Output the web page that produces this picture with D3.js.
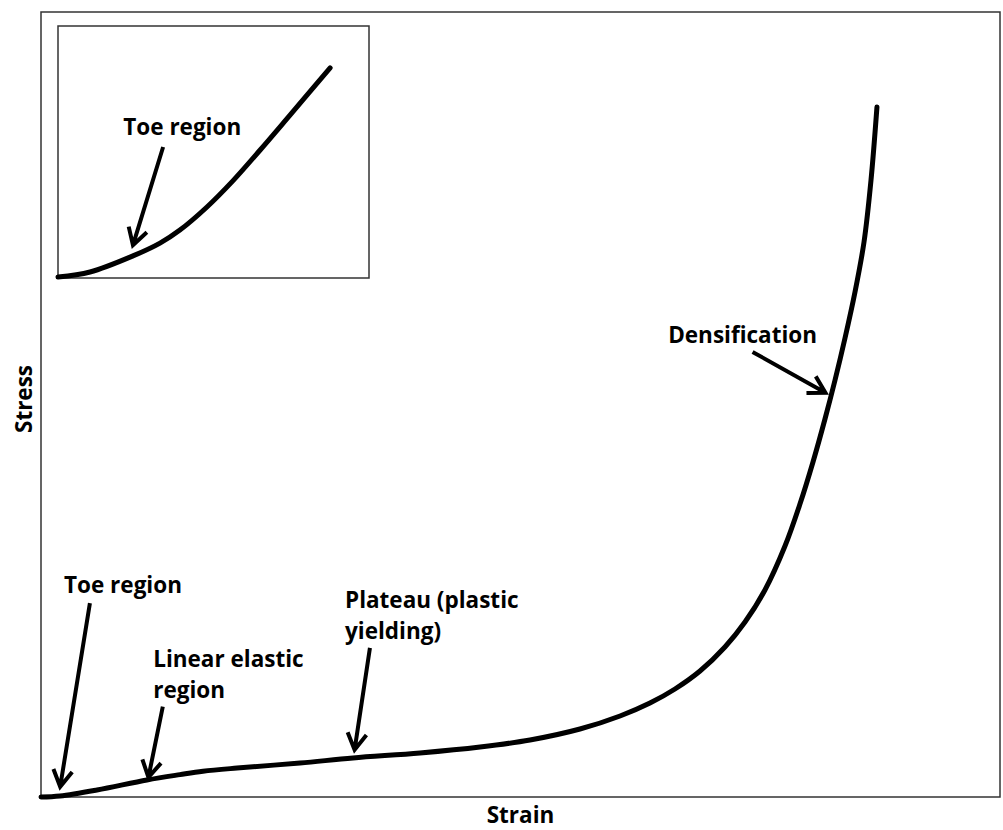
<!DOCTYPE html>
<html>
<head>
<meta charset="utf-8">
<script src="https://cdn.jsdelivr.net/npm/d3@7"></script>
<style>
  body { margin: 0; background: #fff; }
  text { font-family: "Open Sans", sans-serif; font-weight: bold; fill: #000; }
</style>
</head>
<body>
<svg id="chart" width="1003" height="830"></svg>
<script>
// main curve (strain, stress), both normalised 0..1
var strain = [0, 0.0198, 0.0584, 0.1105, 0.1449, 0.1689, 0.2044, 0.2701, 0.3253, 0.3952, 0.4578, 0.5099, 0.5620, 0.6038, 0.6350, 0.6611, 0.6872, 0.7132, 0.7341, 0.7549, 0.7758, 0.7914, 0.8050, 0.8175, 0.8280, 0.8384, 0.8488, 0.8582, 0.8655, 0.8717];
var stress = [0, 0.0013, 0.0089, 0.0217, 0.0285, 0.0328, 0.0369, 0.0433, 0.0497, 0.0561, 0.0637, 0.0726, 0.0866, 0.1032, 0.1197, 0.1376, 0.1605, 0.1911, 0.2229, 0.2637, 0.3197, 0.3732, 0.4268, 0.4815, 0.5312, 0.5847, 0.6433, 0.7070, 0.7860, 0.8790];

// inset curve (toe region close-up)
var insetStrain = [0, 0.103, 0.241, 0.328, 0.392, 0.479, 0.563, 0.650, 0.746, 0.875];
var insetStress = [0, 0.020, 0.084, 0.135, 0.187, 0.279, 0.384, 0.506, 0.645, 0.833];

// annotations: label lines, label anchor, arrow start and tip (data units)
var labels = [
  { lines: ["Toe region"], at: [0.024, 0.260], from: [0.051, 0.247], to: [0.020, 0.013] },
  { lines: ["Linear elastic", "region"], at: [0.117, 0.165], from: [0.127, 0.115], to: [0.112, 0.025] },
  { lines: ["Plateau (plastic", "yielding)"], at: [0.317, 0.241], from: [0.343, 0.190], to: [0.327, 0.060] },
  { lines: ["Densification"], at: [0.654, 0.578], from: [0.742, 0.567], to: [0.818, 0.515] }
];
var insetLabels = [
  { lines: ["Toe region"], at: [0.210, 0.565], from: [0.338, 0.518], to: [0.241, 0.127] }
];

var svg = d3.select('#chart');

var pLeft = 41, pRight = 1000, pTop = 12, pBottom = 797;
var x = d3.scaleLinear().domain([0, 1]).range([pLeft, pRight]);
var y = d3.scaleLinear().domain([0, 1]).range([pBottom, pTop]);

var ix = d3.scaleLinear().domain([0, 1]).range([58, 369]);
var iy = d3.scaleLinear().domain([0, 1]).range([277, 26]);

// plot frame
svg.append('rect')
  .attr('x', pLeft).attr('y', pTop)
  .attr('width', pRight - pLeft).attr('height', pBottom - pTop)
  .attr('fill', 'none').attr('stroke', '#333').attr('stroke-width', 1.5);

// inset frame
svg.append('rect')
  .attr('x', ix(0)).attr('y', 26)
  .attr('width', ix(1) - ix(0)).attr('height', 278 - 26)
  .attr('fill', 'none').attr('stroke', '#333').attr('stroke-width', 1.5);

var line = d3.line()
  .x(function(d){ return x(d[0]) })
  .y(function(d){ return y(d[1]) })
  .curve(d3.curveCatmullRom);

svg.append('path')
  .datum(d3.zip(strain, stress))
  .attr('d', line)
  .attr('fill', 'none').attr('stroke', '#000')
  .attr('stroke-width', 5).attr('stroke-linecap', 'round');

var insetLine = d3.line()
  .x(function(d){ return ix(d[0]) })
  .y(function(d){ return iy(d[1]) })
  .curve(d3.curveCatmullRom);

svg.append('path')
  .datum(d3.zip(insetStrain, insetStress))
  .attr('d', insetLine)
  .attr('fill', 'none').attr('stroke', '#000')
  .attr('stroke-width', 5).attr('stroke-linecap', 'round');

function drawNotes(notes, sx, sy){
  notes.forEach(function(n){
    var t = svg.append('text')
      .attr('x', sx(n.at[0])).attr('y', sy(n.at[1]))
      .style('font-size', '22.5px');
    n.lines.forEach(function(l, i){
      t.append('tspan').attr('x', sx(n.at[0])).attr('dy', i ? 31 : 0).text(l);
    });

    var x1 = sx(n.from[0]), y1 = sy(n.from[1]);
    var x2 = sx(n.to[0]), y2 = sy(n.to[1]);
    var ang = Math.atan2(y2 - y1, x2 - x1);
    var head = 19, spread = Math.PI / 6;
    var p = d3.path();
    p.moveTo(x1, y1); p.lineTo(x2, y2);
    p.moveTo(x2 - head * Math.cos(ang - spread), y2 - head * Math.sin(ang - spread));
    p.lineTo(x2, y2);
    p.lineTo(x2 - head * Math.cos(ang + spread), y2 - head * Math.sin(ang + spread));
    svg.append('path')
      .attr('d', p.toString())
      .attr('fill', 'none').attr('stroke', '#000')
      .attr('stroke-width', 4).attr('stroke-linecap', 'butt');
  });
}

drawNotes(labels, x, y);
drawNotes(insetLabels, ix, iy);

// axis titles
svg.append('text')
  .attr('x', (pLeft + pRight) / 2).attr('y', 823)
  .attr('text-anchor', 'middle')
  .style('font-size', '22.5px')
  .text('Strain');

svg.append('text')
  .attr('transform', 'translate(32,399) rotate(-90)')
  .attr('text-anchor', 'middle')
  .style('font-size', '22.5px')
  .text('Stress');
</script>
</body>
</html>
